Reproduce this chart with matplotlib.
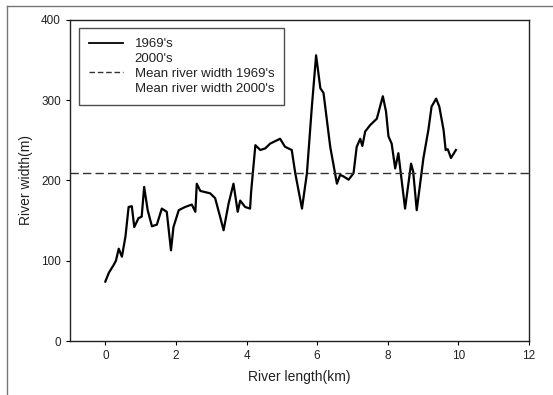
import matplotlib
matplotlib.use("Agg")
import matplotlib.pyplot as plt
from matplotlib.lines import Line2D

plt.rcParams["font.family"] = ["Liberation Sans", "DejaVu Sans"]

# River width along the river, 1969's survey
length_1969 = [0.00, 0.10, 0.24, 0.30, 0.38, 0.47, 0.57, 0.66, 0.75, 0.82, 0.94, 1.03,
               1.10, 1.20, 1.32, 1.46, 1.60, 1.74, 1.86, 1.93, 2.08, 2.26, 2.45, 2.55,
               2.59, 2.69, 2.97, 3.11, 3.25, 3.35, 3.49, 3.63, 3.75, 3.82, 3.96, 4.10,
               4.13, 4.25, 4.39, 4.53, 4.67, 4.95, 5.09, 5.28, 5.38, 5.57, 5.71, 5.85,
               5.97, 6.09, 6.18, 6.37, 6.56, 6.65, 6.75, 6.89, 7.03, 7.12, 7.22, 7.28,
               7.36, 7.50, 7.69, 7.86, 7.95, 8.02, 8.11, 8.21, 8.30, 8.49, 8.66, 8.72,
               8.82, 9.01, 9.15, 9.24, 9.37, 9.46, 9.58, 9.64, 9.70, 9.79, 9.93]
width_1969 = [74, 85, 95, 100, 115, 105, 130, 167, 168, 142, 153, 155,
              192, 163, 143, 145, 165, 161, 113, 142, 163, 167, 170, 161,
              196, 187, 184, 178, 155, 138, 171, 196, 161, 175, 167, 165,
              186, 244, 238, 240, 246, 252, 242, 238, 209, 165, 209, 292,
              356, 315, 309, 242, 196, 207, 205, 201, 209, 242, 252, 243,
              261, 269, 277, 305, 286, 255, 246, 215, 234, 165, 221, 211,
              163, 228, 263, 292, 302, 292, 263, 238, 239, 228, 238]

mean_1969 = 209
x_ticks = [0, 2, 4, 6, 8, 10, 12]
y_ticks = [0, 100, 200, 300, 400]

fig = plt.figure(figsize=(5.53, 3.95), dpi=100)
ax = fig.add_axes([0.1266, 0.1367, 0.83, 0.8127])

ax.plot(length_1969, width_1969, color="black", lw=1.6)
ax.axhline(mean_1969, color="#333333", lw=1.0, ls=(0, (6, 3)))

ax.set_xlim(-1, 12)
ax.set_ylim(0, 400)
ax.set_xticks(x_ticks)
ax.set_yticks(y_ticks)
ax.tick_params(direction="out", length=3, width=0.8, labelsize=8.5,
               colors="black", labelcolor="#222222")
for s in ax.spines.values():
    s.set_linewidth(1.0)
    s.set_color("#222222")

ax.set_xlabel("River length(km)", fontsize=10, color="#222222", labelpad=6)
ax.set_ylabel("River width(m)", fontsize=10, color="#222222", labelpad=6)

handles = [
    Line2D([], [], color="black", lw=1.3),
    Line2D([], [], color="white", lw=1.3),
    Line2D([], [], color="#333333", lw=1.0, ls=(0, (4, 2))),
    Line2D([], [], color="white", lw=1.0),
]
labels = ["1969's", "2000's", "Mean river width 1969's", "Mean river width 2000's"]
leg = ax.legend(handles, labels, loc="upper left", bbox_to_anchor=(0.02, 0.975),
                fontsize=9.5, frameon=True, fancybox=False, edgecolor="#222222",
                handlelength=2.6, handletextpad=0.85, labelspacing=0.2,
                borderpad=0.75, borderaxespad=0)
leg.get_frame().set_linewidth(1.0)
for t in leg.get_texts():
    t.set_color("#222222")

# outer frame lines of the original picture
fig.add_artist(Line2D([0.012, 1.0], [0.986, 0.986], color="#777777", lw=1.0))
fig.add_artist(Line2D([0.012, 0.012], [0.0, 0.986], color="#777777", lw=1.0))

fig.savefig("out.png", dpi=100)
